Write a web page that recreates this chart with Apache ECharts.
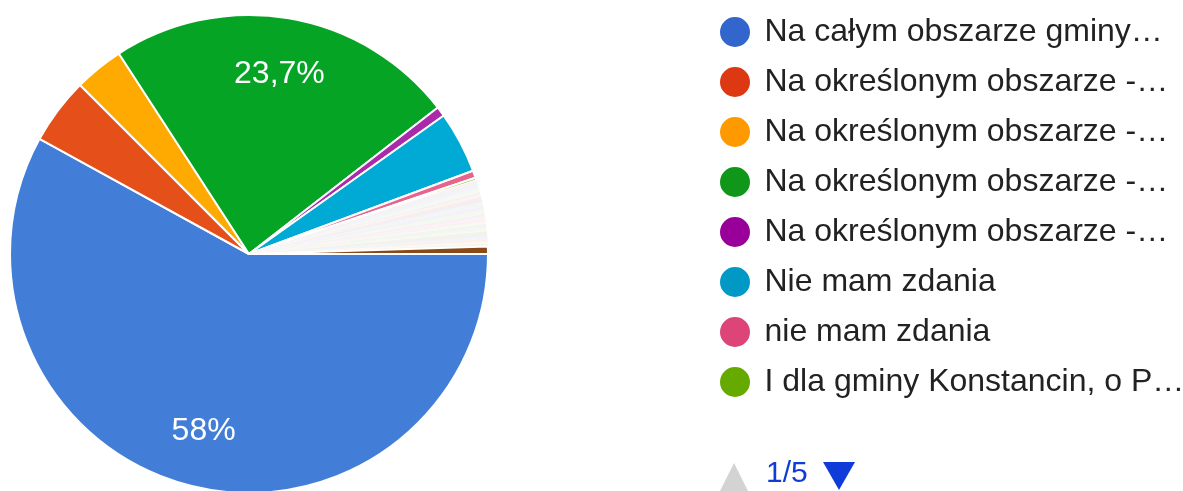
<!DOCTYPE html>
<html>
<head>
<meta charset="utf-8">
<script src="https://cdn.jsdelivr.net/npm/echarts@6/dist/echarts.min.js"></script>
<style>
  html, body { margin: 0; padding: 0; background: #fff; }
  #chart { width: 1183px; height: 491px; }
</style>
</head>
<body>
<div id="chart"></div>
<script>
  // odpowiedzi (kolejność jak w ankiecie)
  const answers = [
    "Na całym obszarze gminy Konstancin-Jeziorna",
    "Na określonym obszarze - w strefie uzdrowiskowej",
    "Na określonym obszarze - w centrum miasta",
    "Na określonym obszarze - na terenach zabudowy mieszkaniowej",
    "Na określonym obszarze - wzdłuż głównych dróg",
    "Nie mam zdania",
    "nie mam zdania",
    "I dla gminy Konstancin, o Piasecznie też warto pomyśleć",
    "Tylko w centrum", "W okolicach szkół", "Przy głównych drogach", "Wszędzie",
    "Nigdzie", "Na terenach zielonych", "W parkach", "W rejonie ul. Warszawskiej",
    "Tylko w Jeziornie", "W Konstancinie", "W Mirkowie", "W Klarysewie",
    "W Grapie", "W Skolimowie", "W Chylicach", "Na terenie uzdrowiska",
    "Poza terenami zabudowanymi", "Przy lasach", "Wokół rzeki Jeziorki", "W strefie A",
    "W strefie B", "Na osiedlach", "W centrach handlowych", "Przy placach zabaw",
    "Wzdłuż ulicy Piaseczyńskiej", "Trudno powiedzieć", "Zależy od lokalizacji",
    "Inne"
  ];
  // liczba odpowiedzi
  const counts = [
    348, 27, 20, 142, 4, 25, 3, 1,
    1, 1, 1, 1, 1, 1, 1, 1, 1, 1, 1, 1, 1, 1,
    1, 1, 1, 1, 1, 1, 1, 1, 1, 1, 1, 1, 1,
    3
  ];

  const legendColors = ["#3366cc", "#dc3912", "#ff9900", "#109618", "#990099", "#0099c6", "#dd4477", "#66aa00"];
  const sliceColors = [
    "#427ed7", "#e5501a", "#ffaa00", "#05a425", "#ab2aa9", "#00aad4", "#e7658c", "#77b800",
    "#b82e2e", "#316395", "#994499", "#22aa99", "#aaaa11", "#6633cc", "#e67300", "#8b0707",
    "#651067", "#329262", "#5574a6", "#3b3eac", "#b77322", "#16d620", "#b91383", "#f4359e",
    "#9c5935", "#a9c413", "#2a778d", "#668d1c", "#bea413", "#0c5922", "#743411", "#3366cc",
    "#dc3912", "#ff9900", "#109618",
    "#8a4a17"
  ];
  const perPage = 8;
  const legendFont = "32px 'Liberation Sans', Arial, sans-serif";
  const legendTextMax = 421;

  const total = counts.reduce((a, b) => a + b, 0);
  const pages = Math.ceil(answers.length / perPage);

  // pojedyncze odpowiedzi prawie giną pod białymi krawędziami
  const pieData = answers.map((name, i) => ({
    name: name,
    value: counts[i],
    itemStyle: {
      color: sliceColors[i],
      opacity: (counts[i] === 1 && i >= perPage) ? 0.08 : 1
    }
  }));

  function pctLabel(p) {
    const v = p.value / total * 100;
    if (v < 5) return "";
    let s = v.toFixed(1);
    if (s.endsWith(".0")) s = s.slice(0, -2);
    return s.replace(".", ",") + "%";
  }

  // skracanie tekstu legendy z "…"
  const ctx = document.createElement("canvas").getContext("2d");
  ctx.font = legendFont;
  function shorten(name) {
    if (ctx.measureText(name).width <= legendTextMax) return name;
    const ell = ctx.measureText("…").width;
    let s = name;
    while (s.length && ctx.measureText(s).width + ell > legendTextMax) {
      s = s.slice(0, -1);
    }
    return s.replace(/\s+$/, "") + "…";
  }

  const myChart = echarts.init(document.getElementById("chart"));
  myChart.setOption({
    animation: false,
    legend: {
      orient: "vertical",
      left: 713,
      top: 10,
      itemWidth: 49,
      itemHeight: 32,
      itemGap: 16,
      icon: "circle",
      selectedMode: false,
      formatter: shorten,
      textStyle: {
        fontFamily: "Liberation Sans, Arial, sans-serif",
        fontSize: 32,
        lineHeight: 32,
        color: "#222222"
      },
      data: answers.slice(0, perPage).map((name, i) => ({
        name: name,
        itemStyle: { color: legendColors[i], opacity: 1 }
      }))
    },
    graphic: [
      {
        // strzałka "poprzednia strona" (nieaktywna)
        type: "polygon",
        x: 720, y: 463,
        shape: { points: [[0, 28], [28, 28], [14, 0]] },
        style: { fill: "#d3d3d3" },
        silent: true
      },
      {
        type: "text",
        x: 766, y: 489,
        style: {
          text: "1/" + pages,
          fill: "#0f3bd9",
          font: "30px Liberation Sans, Arial, sans-serif",
          verticalAlign: "bottom"
        },
        silent: true
      },
      {
        // strzałka "następna strona"
        type: "polygon",
        x: 823, y: 462,
        shape: { points: [[0, 0], [32, 0], [16, 28]] },
        style: { fill: "#0f3bd9" },
        silent: true
      }
    ],
    series: [
      {
        type: "pie",
        center: [249, 254],
        radius: [0, 239],
        startAngle: 0,
        clockwise: true,
        silent: true,
        label: { show: false },
        labelLine: { show: false },
        itemStyle: { borderColor: "#ffffff", borderWidth: 2 },
        data: pieData
      },
      {
        // przezroczysta warstwa tylko dla etykiet procentowych
        type: "pie",
        center: [249, 254],
        radius: [120, 239],
        startAngle: 0,
        clockwise: true,
        silent: true,
        itemStyle: { color: "rgba(0,0,0,0)", borderWidth: 0 },
        label: {
          show: true,
          position: "inside",
          formatter: pctLabel,
          color: "#ffffff",
          fontSize: 32,
          fontFamily: "Liberation Sans, Arial, sans-serif"
        },
        labelLine: { show: false },
        data: answers.map((name, i) => ({ name: name, value: counts[i] }))
      }
    ]
  });
</script>
</body>
</html>
